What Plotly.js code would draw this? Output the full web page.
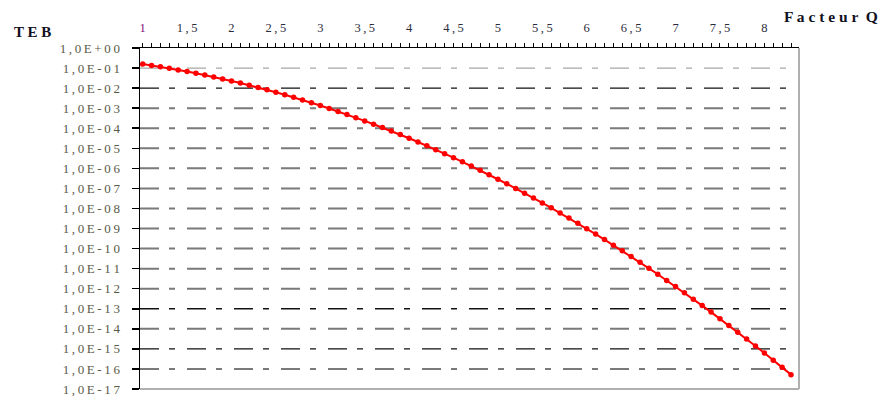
<!DOCTYPE html>
<html>
<head>
<meta charset="utf-8">
<script src="https://cdn.plot.ly/plotly-3.0.1.min.js"></script>
<style>html,body{margin:0;padding:0;background:#fff;}#chart{width:884px;height:401px;}</style>
</head>
<body>
<div id="chart"></div>
<script>
// Q factor (x) and bit error rate TEB (y)
const qFactor = [1.0,1.1,1.2,1.3,1.4,1.5,1.6,1.7,1.8,1.9,
  2.0,2.1,2.2,2.3,2.4,2.5,2.6,2.7,2.8,2.9,
  3.0,3.1,3.2,3.3,3.4,3.5,3.6,3.7,3.8,3.9,
  4.0,4.1,4.2,4.3,4.4,4.5,4.6,4.7,4.8,4.9,
  5.0,5.1,5.2,5.3,5.4,5.5,5.6,5.7,5.8,5.9,
  6.0,6.1,6.2,6.3,6.4,6.5,6.6,6.7,6.8,6.9,
  7.0,7.1,7.2,7.3,7.4,7.5,7.6,7.7,7.8,7.9,
  8.0,8.1,8.2,8.3];
const teb = [1.587e-1,1.357e-1,1.151e-1,9.680e-2,8.076e-2,6.681e-2,5.480e-2,4.457e-2,3.593e-2,2.872e-2,
  2.275e-2,1.786e-2,1.390e-2,1.072e-2,8.198e-3,6.210e-3,4.661e-3,3.467e-3,2.555e-3,1.866e-3,
  1.350e-3,9.676e-4,6.871e-4,4.834e-4,3.369e-4,2.326e-4,1.591e-4,1.078e-4,7.235e-5,4.810e-5,
  3.167e-5,2.066e-5,1.335e-5,8.540e-6,5.413e-6,3.398e-6,2.112e-6,1.301e-6,7.933e-7,4.792e-7,
  2.867e-7,1.698e-7,9.964e-8,5.790e-8,3.332e-8,1.899e-8,1.072e-8,5.990e-9,3.316e-9,1.818e-9,
  9.866e-10,5.303e-10,2.823e-10,1.488e-10,7.769e-11,4.016e-11,2.056e-11,1.042e-11,5.231e-12,2.600e-12,
  1.280e-12,6.238e-13,3.011e-13,1.439e-13,6.809e-14,3.191e-14,1.481e-14,6.803e-15,3.095e-15,1.395e-15,
  6.221e-16,2.748e-16,1.202e-16,5.206e-17];

// tick labels
const xTickVals = [1,1.5,2,2.5,3,3.5,4,4.5,5,5.5,6,6.5,7,7.5,8];
const xTickText = ["1","1,5","2","2,5","3","3,5","4","4,5","5","5,5","6","6,5","7","7,5","8"];
const yExponents = [0,-1,-2,-3,-4,-5,-6,-7,-8,-9,-10,-11,-12,-13,-14,-15,-16,-17];
const yTickText = ["1,0E+00","1,0E-01","1,0E-02","1,0E-03","1,0E-04","1,0E-05","1,0E-06","1,0E-07","1,0E-08",
  "1,0E-09","1,0E-10","1,0E-11","1,0E-12","1,0E-13","1,0E-14","1,0E-15","1,0E-16","1,0E-17"];
// gridlines drawn darker (black) or lighter in the reference
const blackGridExponents = [-2,-13,-15];
const lightGridExponents = [-1];

const THIN = "\u2009";
const spaced = s => s.split("").join(THIN);
const yTickVals = yExponents.map(e => Math.pow(10, e));

const font = "Liberation Serif, Times New Roman, serif";
const xRange = [0.97, 8.39];
const yRange = [-17, 0];
const dashPat = "19px,10px,6px,12px";

const gridTraces = yExponents.filter(e => e < 0 && e > -17).map(e => {
  const isBlack = blackGridExponents.includes(e);
  const isLight = lightGridExponents.includes(e);
  return {
    x: xRange, y: [Math.pow(10, e), Math.pow(10, e)], type: "scatter", mode: "lines",
    line: {color: isBlack ? "#111" : (isLight ? "#a8a8a8" : "#7a7a7a"), width: isBlack ? 1.3 : (isLight ? 1.3 : 2), dash: dashPat},
    hoverinfo: "skip", showlegend: false
  };
});

const traces = gridTraces.concat([{
  x: qFactor, y: teb, type: "scatter", mode: "lines+markers",
  line: {color: "#ff0000", width: 2},
  marker: {color: "#ff0000", size: 5.5},
  showlegend: false
}]);

const xText = xTickText.map(spaced);
xText[0] = '<span style="fill:#80107a">' + xText[0] + '</span>';

const layout = {
  width: 884, height: 401,
  margin: {l: 140, r: 85, t: 48, b: 12},
  paper_bgcolor: "#fff", plot_bgcolor: "#fff",
  font: {family: font, size: 12, color: "#333"},
  showlegend: false,
  xaxis: {
    side: "top", range: xRange,
    tickvals: xTickVals, ticktext: xText,
    tickfont: {family: font, size: 12.5, color: "#2b2b3a"},
    ticks: "outside", ticklen: 4, tickcolor: "#000", tickwidth: 1,
    minor: {dtick: 0.1, tick0: 1, ticks: "outside", ticklen: 4, tickcolor: "#000", tickwidth: 1, showgrid: false},
    showline: true, linecolor: "#000", linewidth: 1.5,
    showgrid: false, zeroline: false, fixedrange: true,
    ticklabelstandoff: 6
  },
  yaxis: {
    type: "log", range: yRange,
    tickvals: yTickVals, ticktext: yTickText.map(spaced),
    tickfont: {family: font, size: 13, color: "#5a5a48"},
    ticks: "outside", ticklen: 7, tickcolor: "#000", tickwidth: 1.5,
    showline: true, linecolor: "#000", linewidth: 1.5,
    showgrid: false, zeroline: false, fixedrange: true,
    ticklabelstandoff: 9
  },
  shapes: [
    {type: "line", xref: "paper", yref: "paper", x0: 1, x1: 1, y0: 0, y1: 1, line: {color: "#b0b0b0", width: 2}},
    {type: "line", xref: "paper", yref: "paper", x0: 0, x1: 1, y0: 0, y1: 0, line: {color: "#b0b0b0", width: 2}}
  ],
  annotations: [
    {text: "T E B", xref: "paper", yref: "paper", x: -0.1624, y: 1.047, xanchor: "center", yanchor: "middle",
     showarrow: false, font: {family: font, size: 15, color: "#111122", weight: "bold"}},
    {text: "F a c t e u r  Q", xref: "paper", yref: "paper", x: 0.9745, y: 1.091, xanchor: "left", yanchor: "middle",
     showarrow: false, font: {family: font, size: 15.5, color: "#111122", weight: "bold"}}
  ]
};

Plotly.newPlot("chart", traces, layout, {staticPlot: true, displayModeBar: false});
</script>
</body>
</html>
